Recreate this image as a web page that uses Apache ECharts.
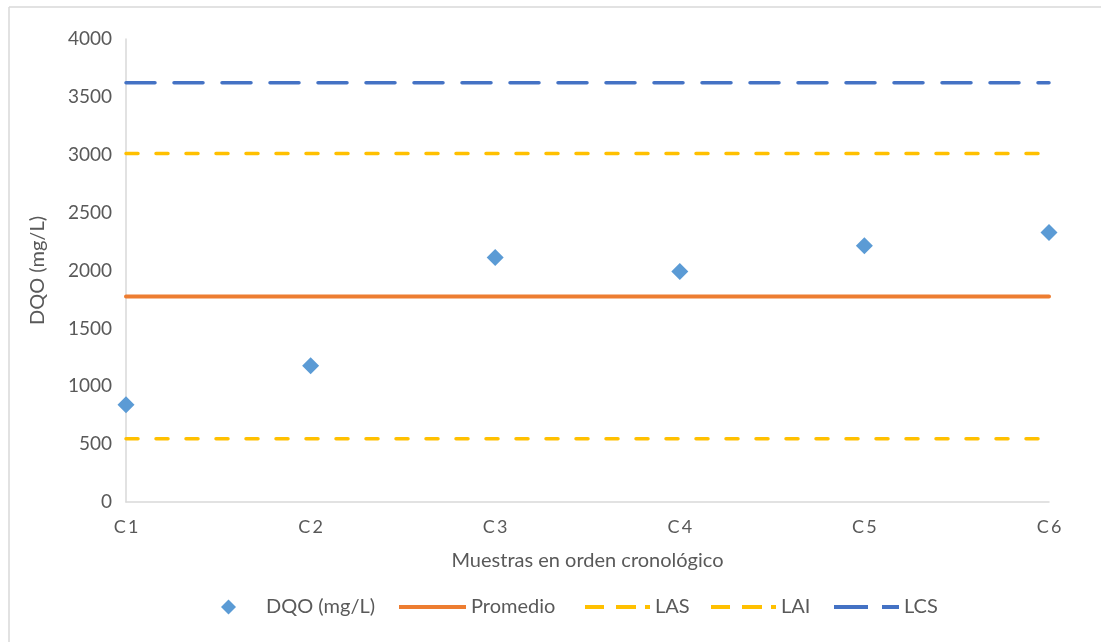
<!DOCTYPE html>
<html>
<head>
<meta charset="utf-8">
<script src="https://cdn.jsdelivr.net/npm/echarts@6/dist/echarts.min.js"></script>
<style>
  html, body { margin: 0; padding: 0; background: #ffffff; }
  #chart { width: 1101px; height: 642px; }
</style>
</head>
<body>
<div id="chart"></div>
<script>
// Muestras (orden cronológico) y resultados de DQO
var categories = ['C1', 'C2', 'C3', 'C4', 'C5', 'C6'];
var dqo = [841, 1177, 2112, 1991, 2213, 2328];

// Límites de la carta de control (mg/L)
var promedio = 1776;
var las = 3010;
var lai = 547;
var lcs = 3623;

// Eje Y
var yMin = 0, yMax = 4000, yStep = 500;

var textColor = '#595959';
var fontFam = 'Lato, "Open Sans", sans-serif';

var cBlue = '#4472C4', cYellow = '#FFC000', cOrange = '#ED7D31', cPoint = '#5B9BD5';

function flat(v) { return categories.map(function () { return v; }); }

// Iconos de la leyenda (trazos discontinuos dibujados como segmentos)
var iconDiamond = 'path://M7,0L14,7L7,14L0,7Z';
var iconSolid = 'path://M0,0H67V4H0Z';
var iconDash = 'path://M0,0H19V4H0Z M31,0H51V4H31Z M60,0H65V4H60Z';
var iconLongDash = 'path://M0,0H34V4H0Z M48,0H65V4H48Z';

function legendItem(name, icon, color, left, w, h, textPad) {
  return {
    left: left, top: 597, padding: 0,
    itemWidth: w, itemHeight: h,
    textStyle: { color: textColor, fontSize: 20, fontFamily: fontFam, padding: [0, 0, 0, textPad || 0] },
    data: [{ name: name, icon: icon, itemStyle: { color: color } }]
  };
}

var chart = echarts.init(document.getElementById('chart'), null, { renderer: 'canvas' });

chart.setOption({
  backgroundColor: '#ffffff',
  animation: false,
  textStyle: { fontFamily: fontFam, color: textColor },
  grid: { left: 126, right: 52, top: 39, bottom: 140, containLabel: false },
  xAxis: {
    type: 'category',
    data: categories,
    boundaryGap: false,
    name: 'Muestras en orden cronológico',
    nameLocation: 'middle',
    nameGap: 49,
    nameTextStyle: { fontSize: 20, color: textColor, fontFamily: fontFam },
    axisLine: { show: true, lineStyle: { color: '#d9d9d9', width: 1.5 } },
    axisTick: { show: false },
    splitLine: { show: false },
    axisLabel: {
      color: textColor, fontSize: 18, margin: 16, fontFamily: fontFam,
      formatter: function (v) { return v.replace(/^C/, 'C\u2009'); }
    }
  },
  yAxis: {
    type: 'value',
    min: yMin, max: yMax, interval: yStep,
    name: 'DQO (mg/L)',
    nameLocation: 'middle',
    nameGap: 78,
    nameTextStyle: { fontSize: 20, color: textColor, fontFamily: fontFam },
    axisLine: { show: true, lineStyle: { color: '#d9d9d9', width: 1.5 } },
    axisTick: { show: false },
    splitLine: { show: false },
    axisLabel: {
      color: textColor, fontSize: 19, margin: 14, fontFamily: fontFam,
      formatter: function (v) { return String(v); }
    }
  },
  legend: [
    legendItem('DQO (mg/L)', iconDiamond, cPoint, 221, 15, 15, 25),
    legendItem('Promedio', iconSolid, cOrange, 399, 67, 4),
    legendItem('LAS', iconDash, cYellow, 585, 65, 4),
    legendItem('LAI', iconDash, cYellow, 711, 65, 4),
    legendItem('LCS', iconLongDash, cBlue, 834, 65, 4)
  ],
  graphic: [
    { type: 'line', shape: { x1: 9, y1: 7, x2: 1101, y2: 7 }, style: { stroke: '#d9d9d9', lineWidth: 1.5 }, silent: true },
    { type: 'line', shape: { x1: 9, y1: 7, x2: 9, y2: 642 }, style: { stroke: '#d9d9d9', lineWidth: 1.5 }, silent: true }
  ],
  series: [
    {
      name: 'LCS', type: 'line', data: flat(lcs), symbol: 'none', z: 2,
      lineStyle: { color: cBlue, width: 3.5, type: [29, 19], cap: 'round' },
      itemStyle: { color: cBlue }
    },
    {
      name: 'LAS', type: 'line', data: flat(las), symbol: 'none', z: 2,
      lineStyle: { color: cYellow, width: 3.5, type: [12, 18], cap: 'round' },
      itemStyle: { color: cYellow }
    },
    {
      name: 'LAI', type: 'line', data: flat(lai), symbol: 'none', z: 2,
      lineStyle: { color: cYellow, width: 3.5, type: [12, 18], cap: 'round' },
      itemStyle: { color: cYellow }
    },
    {
      name: 'Promedio', type: 'line', data: flat(promedio), symbol: 'none', z: 2,
      lineStyle: { color: cOrange, width: 4, cap: 'round' },
      itemStyle: { color: cOrange }
    },
    {
      name: 'DQO (mg/L)', type: 'scatter', data: dqo, symbol: 'diamond', symbolSize: [17, 17], z: 3,
      itemStyle: { color: cPoint, opacity: 1 }
    }
  ]
});
</script>
</body>
</html>
